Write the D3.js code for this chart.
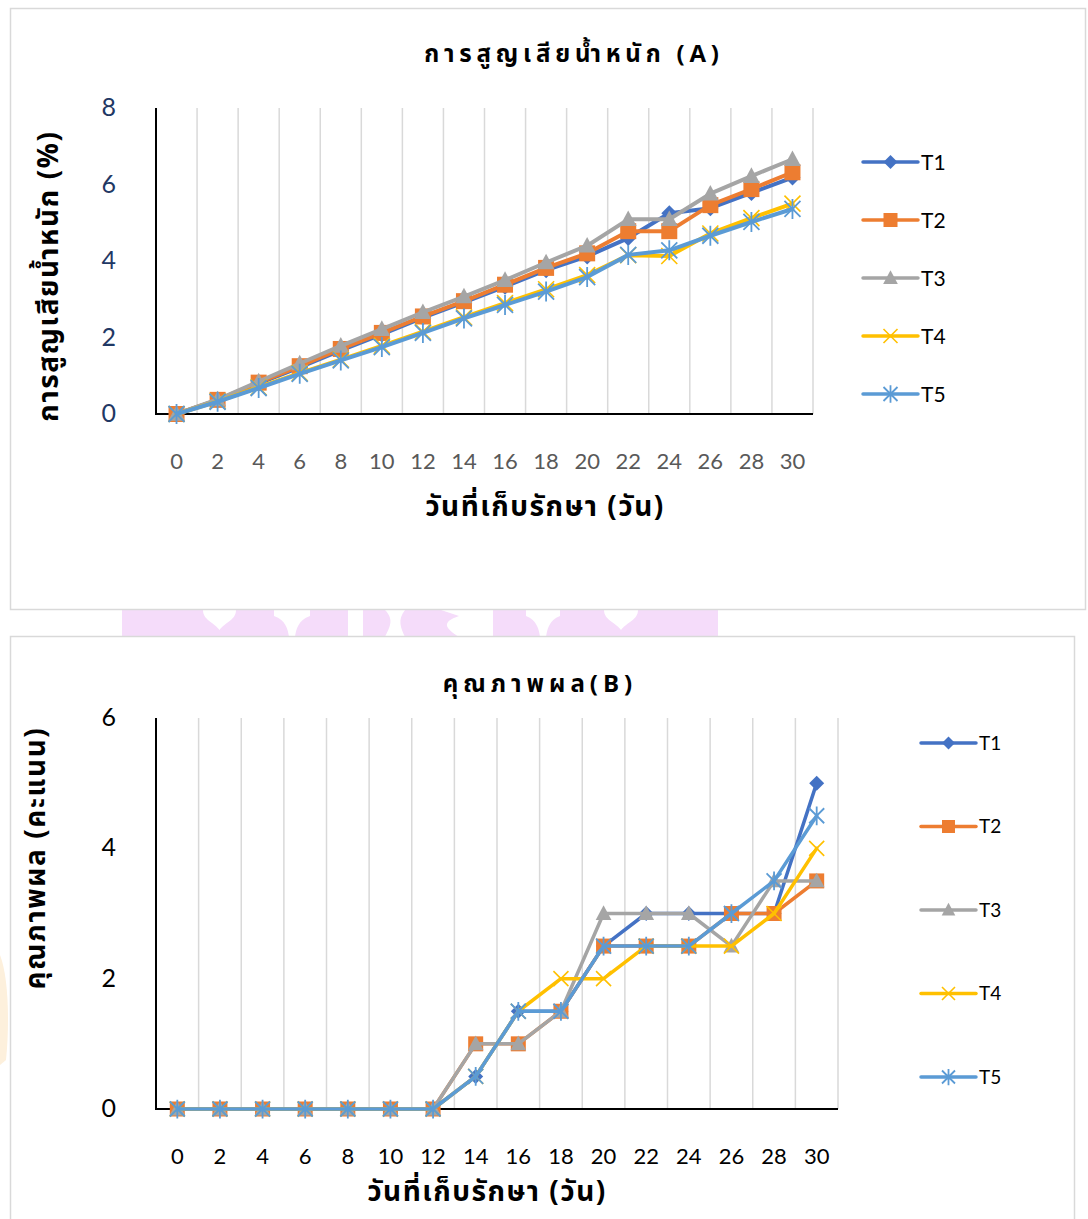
<!DOCTYPE html>
<html><head><meta charset="utf-8">
<script src="https://cdn.jsdelivr.net/npm/d3@7"></script>
<style>
html,body{margin:0;padding:0;background:#fff;}
svg{display:block;}
.thai{font-family:"Noto Sans Thai","Noto Sans","DejaVu Sans",sans-serif;}
.num{font-family:Lato,"Open Sans",sans-serif;}
</style></head>
<body>
<script>
// ---------- data ----------
const days = ["0","2","4","6","8","10","12","14","16","18","20","22","24","26","28","30"];
const seriesNames = ["T1","T2","T3","T4","T5"];
const colors = ["#4472C4","#ED7D31","#A5A5A5","#FFC000","#5B9BD5"];

// Chart A: weight loss (%)
const T1A = [0,0.36,0.80,1.22,1.66,2.08,2.52,2.92,3.33,3.76,4.12,4.60,5.25,5.38,5.78,6.18];
const T2A = [0,0.37,0.82,1.25,1.70,2.12,2.55,2.95,3.38,3.82,4.20,4.78,4.78,5.46,5.88,6.32];
const T3A = [0,0.38,0.85,1.32,1.78,2.22,2.66,3.07,3.50,3.96,4.40,5.09,5.09,5.76,6.22,6.66];
const T4A = [0,0.33,0.70,1.07,1.42,1.78,2.15,2.53,2.90,3.26,3.63,4.15,4.13,4.72,5.12,5.50];
const T5A = [0,0.32,0.68,1.05,1.40,1.75,2.12,2.50,2.85,3.20,3.58,4.16,4.28,4.66,5.02,5.36];
const yTicksA = [0,2,4,6,8];

// Chart B: fruit quality score
const T1B = [0,0,0,0,0,0,0,0.5,1.5,1.5,2.5,3,3,3,3,5];
const T2B = [0,0,0,0,0,0,0,1,1,1.5,2.5,2.5,2.5,3,3,3.5];
const T3B = [0,0,0,0,0,0,0,1,1,1.5,3,3,3,2.5,3.5,3.5];
const T4B = [0,0,0,0,0,0,0,0.5,1.5,2,2,2.5,2.5,2.5,3,4];
const T5B = [0,0,0,0,0,0,0,0.5,1.5,1.5,2.5,2.5,2.5,3,3.5,4.5];
const yTicksB = [0,2,4,6];

const titleA = "การสูญเสียน้ำหนัก (A)";
const yTitleA = "การสูญเสียน้ำหนัก (%)";
const titleB = "คุณภาพผล(B)";
const yTitleB = "คุณภาพผล (คะแนน)";
const xTitle = "วันที่เก็บรักษา (วัน)";

// ---------- drawing ----------
const svg = d3.select("body").append("svg").attr("width",1088).attr("height",1219);

// pink watermark band between charts
const wm = svg.append("g");
wm.append("rect").attr("x",122).attr("y",610).attr("width",596).attr("height",27).attr("fill","#f5dcfa");
[[203,236,"h"],[274,310,"v"],[348,363,"f"],[385,405,"d"],[441,477,"d2"],[477,493,"f"],[526,560,"v"],[604,638,"h"]].forEach(([a,b,t])=>{
  const m=(a+b)/2;
  let p;
  if(t==="f") p=`M${a},610H${b}V637H${a}Z`;
  else if(t==="h") p=`M${a},610H${b}C${b},620 ${m+6},622 ${m},630C${m-6},622 ${a},620 ${a},610Z`;
  else if(t==="v") p=`M${a},610H${b}V616C${m+6},620 ${m+4},630 ${m+3},637H${m-3}C${m-4},630 ${m-6},620 ${a},616Z`;
  else if(t==="d") p=`M${a},610H${b}C${m+2},620 ${m+6},628 ${b},637H${a}C${a+4},628 ${m},620 ${a},610Z`;
  else p=`M${a},610H${b}V637H${m}C${a+4},628 ${a},622 ${m},616Z`;
  wm.append("path").attr("d",p).attr("fill","#fff");
});
// faint orange watermark at left of chart B
svg.append("path").attr("d","M0,955C8,975 10,1020 6,1060L0,1065Z").attr("fill","#fdf0dc");

// frames
svg.append("rect").attr("x",10.5).attr("y",8.5).attr("width",1075).attr("height",601)
  .attr("fill","none").attr("stroke","#d9d9d9").attr("stroke-width",1.5);
svg.append("rect").attr("x",10.5).attr("y",636.5).attr("width",1064).attr("height",620)
  .attr("fill","none").attr("stroke","#d9d9d9").attr("stroke-width",1.5);

function marker(g, i, s){
  const c = colors[i];
  if(i===0){
    g.append("path").attr("d",`M0,${-s}L${s},0L0,${s}L${-s},0Z`).attr("fill",c);
  } else if(i===1){
    g.append("rect").attr("x",-s).attr("y",-s).attr("width",2*s).attr("height",2*s).attr("fill",c);
  } else if(i===2){
    g.append("path").attr("d",`M0,${-s*1.1}L${s*1.05},${s*0.85}L${-s*1.05},${s*0.85}Z`).attr("fill",c);
  } else if(i===3){
    g.append("path").attr("d",`M${-s},${-s}L${s},${s}M${-s},${s}L${s},${-s}`).attr("stroke",c).attr("stroke-width",1.6).attr("fill","none");
  } else {
    g.append("path").attr("d",`M${-s},${-s}L${s},${s}M${-s},${s}L${s},${-s}M0,${-s*1.25}V${s*1.25}`).attr("stroke",c).attr("stroke-width",1.8).attr("fill","none");
  }
}

function drawChart(cfg){
  const x = d3.scaleBand().domain(days).range([cfg.x0,cfg.x1]).paddingInner(0).paddingOuter(0);
  const y = d3.scaleLinear().domain([0,cfg.ymax]).range([cfg.yb,cfg.yt]);
  const g = svg.append("g");
  // gridlines at band boundaries
  g.selectAll(".grid").data(days).join("line")
    .attr("x1",(d,i)=> cfg.x0 + (i+1)*x.bandwidth()).attr("x2",(d,i)=> cfg.x0 + (i+1)*x.bandwidth())
    .attr("y1",cfg.yt).attr("y2",cfg.yb).attr("stroke","#d9d9d9").attr("stroke-width",1.5);
  // axes
  const ax = g.append("g").attr("transform",`translate(0,${cfg.yb})`)
    .call(d3.axisBottom(x).tickSize(0).tickPadding(cfg.xPad));
  ax.select(".domain").remove();
  ax.selectAll("text").attr("class","num").attr("font-size",cfg.xFont).attr("fill",cfg.xColor);
  const ay = g.append("g").attr("transform",`translate(${cfg.x0},0)`)
    .call(d3.axisLeft(y).tickValues(cfg.yTicks).tickSize(0).tickPadding(40).tickFormat(d3.format("d")));
  ay.select(".domain").remove();
  ay.selectAll("text").attr("class","num").attr("font-size",cfg.yFont).attr("fill",cfg.yColor).attr("dy","0.3em");
  g.append("line").attr("x1",cfg.x0).attr("x2",cfg.x0).attr("y1",cfg.yt).attr("y2",cfg.yb+1).attr("stroke","#000").attr("stroke-width",2);
  g.append("line").attr("x1",cfg.x0).attr("x2",cfg.x1).attr("y1",cfg.yb).attr("y2",cfg.yb).attr("stroke","#000").attr("stroke-width",2);
  // series
  const line = d3.line().x((d,i)=>x(days[i])+x.bandwidth()/2).y(d=>y(d));
  cfg.series.forEach((vals,si)=>{
    const sg = g.append("g");
    sg.append("path").attr("d",line(vals)).attr("fill","none").attr("stroke",colors[si])
      .attr("stroke-width",cfg.lw).attr("stroke-linejoin","round").attr("stroke-linecap","round");
    vals.forEach((v,i)=>{
      const mg = sg.append("g").attr("transform",`translate(${x(days[i])+x.bandwidth()/2},${y(v)})`);
      marker(mg, si, cfg.ms);
    });
  });
  // titles
  svg.append("text").attr("class","thai").attr("x",cfg.titleX).attr("y",cfg.titleY).attr("text-anchor","middle")
    .attr("font-size",cfg.titleFont).attr("font-weight","bold").attr("letter-spacing",cfg.titleLs).attr("fill","#000").text(cfg.title);
  svg.append("text").attr("class","thai").attr("x",cfg.xtX).attr("y",cfg.xtY).attr("text-anchor","middle")
    .attr("font-size",cfg.xtFont).attr("font-weight","bold").attr("letter-spacing",1.5).attr("fill","#000").text(xTitle);
  svg.append("text").attr("class","thai").attr("text-anchor","middle").attr("font-size",cfg.ytFont).attr("font-weight","bold")
    .attr("letter-spacing",1.6)
    .attr("transform",`translate(${cfg.ytX},${cfg.ytY}) rotate(-90)`).attr("fill","#000").text(cfg.yTitle);
  // legend
  seriesNames.forEach((n,i)=>{
    const ly = cfg.legY0 + i*cfg.legStep;
    const lg = svg.append("g");
    lg.append("line").attr("x1",cfg.legX).attr("x2",cfg.legX+55).attr("y1",ly).attr("y2",ly)
      .attr("stroke",colors[i]).attr("stroke-width",3.5).attr("stroke-linecap","round");
    marker(lg.append("g").attr("transform",`translate(${cfg.legX+27.5},${ly})`), i, cfg.legMs);
    lg.append("text").attr("class","num").attr("x",cfg.legX+58).attr("y",ly).attr("dy","0.36em")
      .attr("font-size",cfg.legFont).attr("fill","#000").text(n);
  });
}

drawChart({x0:156,x1:813,yt:108,yb:414,ymax:8,yTicks:yTicksA,xPad:39,xFont:22,xColor:"#595959",
  yFont:25,yColor:"#1f3864",lw:4,ms:8,series:[T1A,T2A,T3A,T4A,T5A],
  title:titleA,titleFont:24,titleLs:4.8,titleX:574,titleY:62,xtX:545,xtY:516,xtFont:28,ytX:58,ytY:276,ytFont:28,yTitle:yTitleA,
  legX:863,legY0:162,legStep:58,legMs:7,legFont:21});

drawChart({x0:156,x1:838,yt:718,yb:1109,ymax:6,yTicks:yTicksB,xPad:39,xFont:22,xColor:"#000",
  yFont:25,yColor:"#000",lw:3.5,ms:7.5,series:[T1B,T2B,T3B,T4B,T5B],
  title:titleB,titleFont:24,titleLs:5,titleX:540,titleY:692,xtX:487,xtY:1201,xtFont:28,ytX:45,ytY:858,ytFont:28,yTitle:yTitleB,
  legX:921,legY0:743,legStep:83.5,legMs:6.5,legFont:19});
</script>
</body></html>
